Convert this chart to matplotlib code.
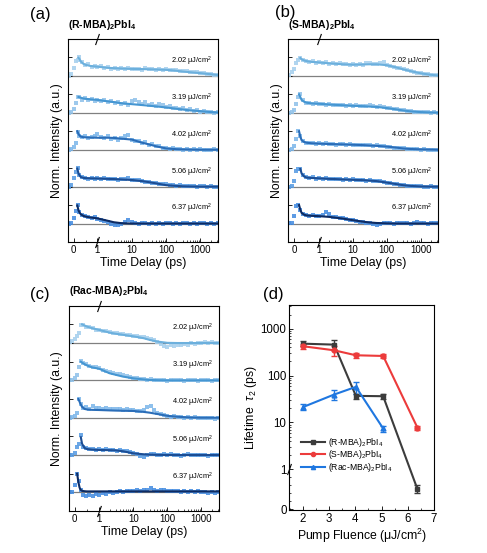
import numpy as np
import matplotlib
matplotlib.use('Agg')
import matplotlib.pyplot as plt
from matplotlib.lines import Line2D
from matplotlib.ticker import FixedLocator, NullFormatter
from matplotlib.transforms import blended_transform_factory

plt.rcParams['font.family'] = ['Liberation Sans', 'DejaVu Sans']
plt.rcParams['mathtext.fontset'] = 'custom'
plt.rcParams['mathtext.rm'] = 'Liberation Sans'
plt.rcParams['mathtext.bf'] = 'Liberation Sans:bold'
plt.rcParams['mathtext.it'] = 'Liberation Sans:italic'

nan = np.nan
fluences = ['2.02', '3.19', '4.02', '5.06', '6.37']

# time grid of the measured points (ps)
t_pts = [-0.2, -0.1, 0.0, 0.08, 0.16, 0.24, 0.34, 0.46, 0.6, 0.75, 0.88,
         1.0, 1.26, 1.58, 2.0, 2.5, 3.2, 4.0, 5.0, 6.3, 8.0, 10, 12.6, 15.8, 20, 25,
         32, 40, 50, 63, 80, 100, 126, 158, 200, 251, 316, 398, 501, 631, 794,
         1000, 1259, 1585, 1995, 2512, 3162]
# time nodes of the fitted curves (ps)
t_fit = [0.1, 0.15, 0.2, 0.25, 0.3, 0.4, 0.5, 0.7, 1, 2, 3, 5, 10, 20, 30, 50,
         100, 200, 300, 500, 1000, 2000, 3200]

# (a) (R-MBA)2PbI4
a_pts = [
    [0.02, 0.1, 0.45, 0.8, 0.85, 1.0, 0.75, 0.6, 0.62, 0.5, 0.55, 0.48, 0.52, 0.44, 0.47, 0.4, 0.45, 0.38, 0.42, 0.36, 0.43, 0.35, 0.4, 0.38, 0.33, 0.41, 0.36, 0.39, 0.34, 0.37, 0.31, 0.35, 0.33, 0.3, 0.34, 0.27, 0.24, 0.28, 0.22, 0.19, 0.2, 0.14, 0.16, 0.1, 0.09, 0.06, 0.03],
    [0.0, 0.05, 0.18, 0.55, 0.85, 0.88, 0.72, 0.82, 0.7, 0.76, 0.66, 0.72, 0.63, 0.68, 0.58, 0.62, 0.55, 0.6, 0.5, 0.55, 0.45, 0.65, 0.72, 0.58, 0.5, 0.6, 0.42, 0.5, 0.38, 0.46, 0.4, 0.3, 0.36, 0.27, 0.28, 0.2, 0.25, 0.15, 0.18, 0.1, 0.14, 0.07, 0.1, 0.03, 0.05, 0.0, 0.02],
    [0.0, 0.05, 0.15, 0.35, 0.95, 0.75, 0.68, 0.72, 0.62, 0.7, 0.75, 0.85, 0.7, 0.62, 0.72, 0.6, 0.66, 0.55, 0.62, 0.75, 0.82, 0.55, 0.5, 0.45, 0.38, 0.4, 0.28, 0.3, 0.2, 0.18, 0.1, 0.08, 0.05, 0.07, 0.02, 0.04, 0.0, 0.03, 0.01, 0.04, 0.0, 0.02, -0.02, 0.01, 0.0, 0.02, -0.03],
    [0.0, 0.1, 0.45, 0.8, 1.02, 0.62, 0.5, 0.48, 0.42, 0.47, 0.44, 0.46, 0.42, 0.45, 0.4, 0.43, 0.41, 0.38, 0.42, 0.44, 0.46, 0.38, 0.35, 0.34, 0.3, 0.27, 0.25, 0.22, 0.2, 0.16, 0.13, 0.12, 0.08, 0.1, 0.05, 0.07, 0.03, 0.05, 0.02, 0.04, 0.0, 0.03, 0.01, -0.02, 0.02, 0.0, -0.02],
    [0.0, 0.05, 0.3, 0.7, 1.02, 0.65, 0.45, 0.4, 0.33, 0.3, 0.34, 0.24, 0.2, 0.12, 0.08, -0.02, -0.1, -0.08, -0.02, 0.08, 0.2, 0.1, 0.03, -0.04, 0.02, 0.05, -0.03, 0.03, 0.0, 0.04, -0.02, 0.03, 0.05, 0.0, 0.04, -0.02, 0.02, 0.05, 0.0, 0.03, -0.03, 0.01, 0.04, -0.02, 0.02, 0.0, 0.03],
]
a_fit = [
    [nan, nan, 0.98, 0.9, 0.78, 0.66, 0.6, 0.54, 0.5, 0.44, 0.42, 0.4, 0.38, 0.37, 0.36, 0.35, 0.33, 0.28, 0.24, 0.2, 0.15, 0.09, 0.05],
    [nan, nan, 0.86, 0.84, 0.82, 0.78, 0.76, 0.73, 0.7, 0.62, 0.58, 0.52, 0.47, 0.42, 0.39, 0.35, 0.29, 0.22, 0.18, 0.13, 0.09, 0.04, 0.02],
    [nan, 1.0, 0.85, 0.76, 0.71, 0.68, 0.67, 0.66, 0.65, 0.65, 0.64, 0.6, 0.55, 0.38, 0.3, 0.19, 0.07, 0.03, 0.02, 0.01, 0.0, 0.0, 0.0],
    [nan, 0.98, 0.72, 0.6, 0.52, 0.48, 0.46, 0.45, 0.44, 0.42, 0.41, 0.39, 0.36, 0.3, 0.25, 0.18, 0.08, 0.04, 0.02, 0.01, 0.0, 0.0, 0.0],
    [nan, 0.98, 0.72, 0.58, 0.5, 0.42, 0.38, 0.33, 0.28, 0.15, 0.07, 0.02, 0.0, 0.0, 0.0, 0.0, 0.0, 0.0, 0.0, 0.0, 0.0, 0.0, 0.0],
]

# (b) (S-MBA)2PbI4
b_pts = [
    [0.05, 0.2, 0.4, 0.7, 0.88, 0.97, 0.86, 0.8, 0.76, 0.8, 0.72, 0.76, 0.7, 0.74, 0.66, 0.7, 0.64, 0.68, 0.62, 0.66, 0.6, 0.64, 0.58, 0.62, 0.6, 0.68, 0.72, 0.62, 0.66, 0.7, 0.74, 0.6, 0.56, 0.5, 0.45, 0.42, 0.36, 0.32, 0.28, 0.22, 0.18, 0.15, 0.1, 0.08, 0.05, 0.06, 0.03],
    [0.0, 0.02, 0.15, 0.5, 0.85, 1.02, 0.68, 0.55, 0.52, 0.48, 0.53, 0.46, 0.5, 0.44, 0.47, 0.42, 0.45, 0.4, 0.43, 0.39, 0.42, 0.37, 0.4, 0.36, 0.38, 0.35, 0.42, 0.37, 0.33, 0.35, 0.3, 0.27, 0.25, 0.22, 0.2, 0.16, 0.14, 0.12, 0.09, 0.07, 0.06, 0.04, 0.03, 0.05, 0.01, 0.03, 0.0],
    [0.0, 0.05, 0.2, 0.6, 1.02, 0.72, 0.45, 0.38, 0.35, 0.38, 0.33, 0.36, 0.31, 0.34, 0.3, 0.33, 0.28, 0.31, 0.29, 0.27, 0.3, 0.26, 0.28, 0.25, 0.27, 0.23, 0.25, 0.22, 0.24, 0.2, 0.18, 0.17, 0.14, 0.12, 0.11, 0.08, 0.07, 0.04, 0.05, 0.02, 0.03, 0.01, 0.02, 0.0, 0.01, -0.01, 0.0],
    [0.0, 0.02, 0.3, 0.85, 0.95, 0.95, 0.62, 0.5, 0.47, 0.5, 0.44, 0.47, 0.43, 0.46, 0.41, 0.44, 0.4, 0.43, 0.38, 0.41, 0.37, 0.4, 0.35, 0.38, 0.36, 0.33, 0.35, 0.31, 0.32, 0.28, 0.25, 0.22, 0.18, 0.15, 0.13, 0.1, 0.08, 0.06, 0.04, 0.03, 0.01, 0.02, 0.0, -0.02, 0.01, -0.01, 0.0],
    [0.02, 0.05, 0.4, 0.95, 0.98, 0.75, 0.52, 0.46, 0.43, 0.45, 0.42, 0.41, 0.44, 0.62, 0.5, 0.36, 0.34, 0.3, 0.28, 0.25, 0.2, 0.17, 0.13, 0.1, 0.07, 0.05, 0.02, 0.0, -0.08, 0.0, 0.03, 0.01, 0.04, 0.0, 0.02, 0.05, 0.01, 0.03, -0.01, 0.04, 0.08, 0.02, 0.05, 0.0, 0.03, 0.01, 0.02],
]
b_fit = [
    [nan, nan, nan, 0.97, 0.9, 0.84, 0.8, 0.76, 0.73, 0.68, 0.66, 0.63, 0.61, 0.62, 0.63, 0.63, 0.58, 0.45, 0.36, 0.26, 0.14, 0.06, 0.03],
    [nan, nan, 1.0, 0.85, 0.7, 0.6, 0.55, 0.51, 0.49, 0.45, 0.43, 0.41, 0.38, 0.36, 0.34, 0.32, 0.26, 0.18, 0.13, 0.08, 0.04, 0.02, 0.01],
    [nan, nan, 1.0, 0.7, 0.52, 0.42, 0.38, 0.35, 0.33, 0.31, 0.3, 0.29, 0.27, 0.25, 0.23, 0.21, 0.17, 0.11, 0.07, 0.04, 0.02, 0.01, 0.0],
    [nan, nan, nan, 0.96, 0.72, 0.55, 0.49, 0.47, 0.45, 0.42, 0.41, 0.39, 0.37, 0.35, 0.33, 0.3, 0.22, 0.13, 0.08, 0.04, 0.01, 0.0, 0.0],
    [nan, nan, 1.0, 0.75, 0.58, 0.48, 0.44, 0.42, 0.4, 0.36, 0.32, 0.27, 0.18, 0.1, 0.06, 0.03, 0.01, 0.0, 0.0, 0.0, 0.0, 0.0, 0.0],
]

# (c) (Rac-MBA)2PbI4
c_pts = [
    [0.05, 0.12, 0.2, 0.35, 0.55, 0.95, 0.98, 0.88, 0.85, 0.78, 0.72, 0.7, 0.66, 0.62, 0.58, 0.55, 0.52, 0.5, 0.46, 0.44, 0.42, 0.38, 0.35, 0.33, 0.3, 0.25, 0.2, 0.15, 0.05, -0.05, -0.15, -0.2, -0.12, -0.18, -0.08, -0.12, -0.03, -0.08, 0.0, -0.05, 0.02, -0.02, 0.03, 0.0, 0.04, 0.01, 0.02],
    [0.0, 0.02, 0.1, 0.3, 0.72, 1.02, 0.92, 0.86, 0.78, 0.72, 0.7, 0.64, 0.55, 0.5, 0.45, 0.42, 0.35, 0.32, 0.28, 0.25, 0.2, 0.12, 0.1, 0.06, 0.08, 0.03, 0.05, 0.01, 0.04, 0.0, 0.02, -0.02, 0.01, 0.03, 0.0, 0.02, -0.01, 0.01, 0.03, 0.0, -0.02, 0.01, 0.0, 0.02, -0.01, 0.0, 0.01],
    [0.0, 0.05, 0.1, 0.25, 1.0, 0.72, 0.5, 0.55, 0.48, 0.6, 0.52, 0.5, 0.47, 0.52, 0.45, 0.48, 0.44, 0.47, 0.42, 0.45, 0.4, 0.42, 0.38, 0.36, 0.4, 0.55, 0.62, 0.4, 0.25, 0.2, 0.15, 0.1, 0.05, 0.08, 0.02, 0.04, 0.0, 0.02, -0.02, 0.01, -0.03, 0.0, -0.02, -0.04, 0.0, -0.05, -0.02],
    [0.0, 0.02, 0.1, 0.45, 0.6, 1.05, 0.45, 0.35, 0.3, 0.34, 0.28, 0.32, 0.27, 0.3, 0.25, 0.28, 0.24, 0.27, 0.22, 0.2, 0.15, 0.1, 0.05, -0.05, -0.1, 0.0, 0.03, 0.05, 0.02, 0.0, 0.04, -0.02, 0.03, 0.0, 0.02, -0.03, 0.01, 0.03, -0.02, 0.0, 0.02, -0.01, 0.01, -0.03, 0.0, 0.02, -0.01],
    [0.0, 0.02, 0.4, 1.0, 0.6, 0.12, -0.15, -0.2, -0.12, -0.18, -0.1, -0.14, -0.05, -0.08, 0.0, -0.03, 0.02, 0.05, 0.03, 0.06, 0.08, 0.05, 0.1, 0.07, 0.12, 0.15, 0.22, 0.12, 0.08, 0.15, 0.1, 0.06, 0.09, 0.05, 0.08, 0.04, 0.07, 0.03, 0.06, 0.02, 0.05, 0.0, 0.03, -0.02, 0.01, -0.04, 0.0],
]
c_fit = [
    [nan, nan, nan, nan, 1.0, 0.94, 0.88, 0.8, 0.7, 0.56, 0.5, 0.44, 0.36, 0.26, 0.17, 0.08, 0.01, 0.0, 0.0, 0.0, 0.0, 0.0, 0.0],
    [nan, nan, nan, 1.0, 0.95, 0.87, 0.8, 0.7, 0.62, 0.38, 0.3, 0.2, 0.11, 0.05, 0.02, 0.01, 0.0, 0.0, 0.0, 0.0, 0.0, 0.0, 0.0],
    [nan, 1.0, 0.85, 0.7, 0.58, 0.47, 0.44, 0.42, 0.41, 0.39, 0.38, 0.37, 0.36, 0.31, 0.27, 0.2, 0.1, 0.05, 0.03, 0.01, 0.0, 0.0, 0.0],
    [nan, nan, nan, 0.95, 0.6, 0.38, 0.32, 0.29, 0.27, 0.26, 0.25, 0.2, 0.09, 0.04, 0.02, 0.01, 0.0, 0.0, 0.0, 0.0, 0.0, 0.0, 0.0],
    [1.0, 0.55, 0.25, 0.12, 0.08, 0.06, 0.05, 0.05, 0.05, 0.05, 0.05, 0.05, 0.05, 0.05, 0.05, 0.05, 0.05, 0.05, 0.05, 0.05, 0.05, 0.05, 0.05],
]

# (d) lifetime tau2 vs pump fluence
fluence = [2.02, 3.19, 4.02, 5.06, 6.37]
tau_R = [479, 457, 36.9, 36.3, 0.5]
err_R = [60, 110, 4.5, 4.0, 0.1]
tau_S = [421, 346, 271, 262, 7.7]
err_S = [55, 85, 32, 30, 0.85]
fluence_rac = [2.02, 3.19, 4.02, 5.06]
tau_Rac = [21.5, 39.4, 57.4, 7.45]
err_Rac = [2.7, 9.5, 16, 1.1]

line_cols = ['#6cb0dd', '#4596d2', '#2a6db8', '#1b4d94', '#0d2b63']
pt_cols = ['#a9d1ee', '#94c4ea', '#82b9ea', '#5d9fe4', '#4b90e1']


def make_scale(s):
    def fwd(x):
        x = np.asarray(x, float)
        safe = np.where(x < 1, 1.0, x)
        return np.where(x < 1, s * x, s + np.log10(safe))

    def inv(y):
        y = np.asarray(y, float)
        safe = np.where(y < s, s, y)
        return np.where(y < s, y / s, 10 ** (safe - s))
    return fwd, inv


def break_mark(ax, xy, trans):
    ax.plot([xy[0]], [xy[1]], transform=trans, marker=[(-0.35, -1), (0.35, 1)],
            markersize=8, markeredgewidth=0.8, color='k', clip_on=False, zorder=6)


fig = plt.figure(figsize=(4.87, 5.53), dpi=100)
W, H = 487, 553


def px_axes(l, r, t, b):
    return fig.add_axes([l / W, 1 - b / H, (r - l) / W, (b - t) / H])


def trace_panel(ax, pts, fits, title, s):
    fwd, inv = make_scale(s)
    ax.set_xscale('function', functions=(fwd, inv))
    for i in range(5):
        base = 8 - 2 * i
        ax.axhline(base, color='#808080', lw=0.9, zorder=1)
        ax.scatter(t_pts, np.array(pts[i]) + base, s=9, marker='s', color=pt_cols[i],
                   linewidths=0, alpha=0.9, zorder=2)
        ax.plot(t_fit, np.array(fits[i]) + base, color=line_cols[i], lw=1.5, zorder=3)
        ax.text(0.96, base + 0.8, fluences[i] + ' μJ/cm$^2$',
                transform=blended_transform_factory(ax.transAxes, ax.transData),
                ha='right', va='center', fontsize=5.3)
    ax.set_xlim(-0.23, 3300)
    ax.set_ylim(-1, 10)
    ax.set_xticks([0, 1, 10, 100, 1000])
    ax.set_xticklabels(['0', '1', '10', '100', '1000'])
    minors = [0.5] + [m * 10 ** k for k in range(0, 3) for m in range(2, 10)] + [2000, 3000]
    ax.xaxis.set_minor_locator(FixedLocator(minors))
    ax.xaxis.set_minor_formatter(NullFormatter())
    ax.set_yticks(range(0, 10))
    ax.set_yticklabels([])
    ax.tick_params(axis='both', which='both', direction='in', top=False, right=False)
    ax.tick_params(axis='both', which='major', length=3, width=0.6, labelsize=7, pad=2)
    ax.tick_params(axis='both', which='minor', length=1.5, width=0.5)
    for sp in ax.spines.values():
        sp.set_linewidth(0.8)
    ax.set_xlabel('Time Delay (ps)', fontsize=8.8, labelpad=1.5)
    ax.set_ylabel('Norm. Intensity (a.u.)', fontsize=8.8, labelpad=2)
    ax.text(0.0, 1.07, title, transform=ax.transAxes, ha='left', va='center',
            fontsize=7.5, fontweight='bold')
    tr = blended_transform_factory(ax.transData, ax.transAxes)
    break_mark(ax, (1, 1), tr)
    break_mark(ax, (1, 0), tr)


ax_a = px_axes(68.3, 218.3, 39, 242)
trace_panel(ax_a, a_pts, a_fit, r'(R-MBA)$_\mathbf{2}$PbI$_\mathbf{4}$', 0.69)
ax_b = px_axes(288.3, 438.3, 39, 242)
trace_panel(ax_b, b_pts, b_fit, r'(S-MBA)$_\mathbf{2}$PbI$_\mathbf{4}$', 0.74)
ax_c = px_axes(69, 219, 305.7, 511)
trace_panel(ax_c, c_pts, c_fit, r'(Rac-MBA)$_\mathbf{2}$PbI$_\mathbf{4}$', 0.725)

# (d)
ax_d = px_axes(289.3, 434, 305, 510)
fwd, inv = make_scale(0.85)
ax_d.set_yscale('function', functions=(fwd, inv))
series = [
    (fluence, tau_R, err_R, '#3c3c3c', 's', r'(R-MBA)$_2$PbI$_4$'),
    (fluence, tau_S, err_S, '#ec3b3b', 'o', r'(S-MBA)$_2$PbI$_4$'),
    (fluence_rac, tau_Rac, err_Rac, '#1f77e0', '^', r'(Rac-MBA)$_2$PbI$_4$'),
]
handles = []
for x, y, e, col, mk, lab in series:
    ax_d.errorbar(x, y, yerr=e, color=col, marker=mk, markersize=3.5, lw=1.5,
                  elinewidth=1.0, capsize=2.5, capthick=1.0)
    handles.append(Line2D([], [], color=col, marker=mk, markersize=3, lw=1.5, label=lab))
ax_d.set_xlim(1.48, 6.82)
ax_d.set_ylim(-0.02, 3200)
ax_d.set_xticks([2, 3, 4, 5, 6, 7])
ax_d.xaxis.set_minor_locator(FixedLocator([1.5, 2.5, 3.5, 4.5, 5.5, 6.5]))
ax_d.set_yticks([0, 1, 10, 100, 1000])
ax_d.set_yticklabels(['0', '1', '10', '100', '1000'])
yminors = [0.2, 0.4, 0.6, 0.8] + [m * 10 ** k for k in range(0, 3) for m in range(2, 10)] + [2000, 3000]
ax_d.yaxis.set_minor_locator(FixedLocator(yminors))
ax_d.yaxis.set_minor_formatter(NullFormatter())
ax_d.tick_params(axis='both', which='both', direction='in', top=False, right=False)
ax_d.tick_params(axis='both', which='major', length=3, width=0.6, labelsize=8.3, pad=2)
ax_d.tick_params(axis='both', which='minor', length=1.5, width=0.5)
for sp in ax_d.spines.values():
    sp.set_linewidth(0.8)
ax_d.set_xlabel('Pump Fluence (μJ/cm$^2$)', fontsize=8.8, labelpad=1.5)
ax_d.set_ylabel(r'Lifetime  $\tau_2$ (ps)', fontsize=8.8, labelpad=1)
break_mark(ax_d, (0, 1), blended_transform_factory(ax_d.transAxes, ax_d.transData))
ax_d.legend(handles=handles, loc='upper left', bbox_to_anchor=(0.04, 0.392), frameon=False,
            fontsize=6.2, handlelength=2.8, handletextpad=0.3, labelspacing=-0.05, borderpad=0.2)

# panel labels
for lab, x, y in [('(a)', 30, 15), ('(b)', 275, 13), ('(c)', 30, 295), ('(d)', 263, 295)]:
    fig.text(x / W, 1 - y / H, lab, ha='left', va='center', fontsize=12)

fig.savefig('out.png', dpi=100)
